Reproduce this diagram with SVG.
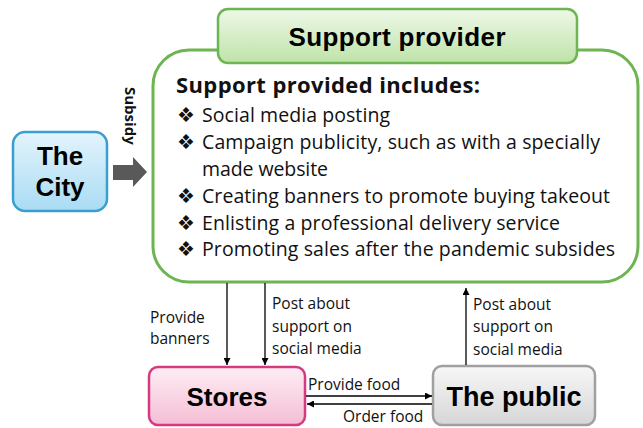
<svg xmlns="http://www.w3.org/2000/svg" width="643" height="428" viewBox="0 0 643 428">
<defs>
<linearGradient id="gGreen" x1="0" y1="0" x2="0" y2="1"><stop offset="0" stop-color="#eef8e8"/><stop offset="1" stop-color="#bfe3a8"/></linearGradient>
<linearGradient id="gBlue" x1="0" y1="0" x2="0" y2="1"><stop offset="0" stop-color="#e3f4fc"/><stop offset="1" stop-color="#a9dcf4"/></linearGradient>
<linearGradient id="gPink" x1="0" y1="0" x2="0" y2="1"><stop offset="0" stop-color="#fdeef4"/><stop offset="1" stop-color="#f5bdd5"/></linearGradient>
<linearGradient id="gGray" x1="0" y1="0" x2="0" y2="1"><stop offset="0" stop-color="#f7f7f7"/><stop offset="1" stop-color="#d6d6d6"/></linearGradient>
<marker id="ah" viewBox="0 0 10 10" refX="10" refY="5" markerWidth="8" markerHeight="7" markerUnits="userSpaceOnUse" orient="auto"><path d="M0,0 L10,5 L0,10 z" fill="#000"/></marker>
</defs>
<style>
.node{font-family:"Liberation Sans",Arial,sans-serif;font-weight:bold;fill:#000;text-anchor:middle}
.body{font-family:"Open Sans","Noto Sans",sans-serif;fill:#111}
.lbl{font-family:"Open Sans","Noto Sans",sans-serif;font-size:15.5px;fill:#111}
.conn{stroke:#000;stroke-width:1.3;fill:none;marker-end:url(#ah)}
</style>
<rect width="643" height="428" fill="#fff"/>

<g id="support-provider-body">
<rect x="153" y="50" width="485" height="232" rx="36" ry="36" fill="#fff" stroke="#6cb552" stroke-width="3"/>
<text class="body" x="176" y="93" font-size="22" font-weight="bold" textLength="304">Support provided includes:</text>
<g font-size="19.5" class="body">
<text x="177" y="122">❖</text><text x="202" y="122" textLength="188">Social media posting</text>
<text x="177" y="149">❖</text><text x="202" y="149" textLength="398">Campaign publicity, such as with a specially</text>
<text x="202" y="176" textLength="126">made website</text>
<text x="177" y="203">❖</text><text x="202" y="203" textLength="408">Creating banners to promote buying takeout</text>
<text x="177" y="230">❖</text><text x="202" y="230" textLength="358">Enlisting a professional delivery service</text>
<text x="177" y="256">❖</text><text x="202" y="256" textLength="413">Promoting sales after the pandemic subsides</text>
</g>
</g>

<g id="support-provider">
<rect x="218" y="9" width="359" height="54" rx="10" ry="10" fill="url(#gGreen)" stroke="#6cb552" stroke-width="2.5"/>
<text class="node" x="397" y="46" font-size="26" textLength="217">Support provider</text>
</g>

<g id="the-city">
<rect x="13" y="132" width="94" height="79" rx="12" ry="12" fill="url(#gBlue)" stroke="#3a9ed0" stroke-width="2.5"/>
<text class="node" x="60" y="165" font-size="26">The</text>
<text class="node" x="60" y="196" font-size="26">City</text>
</g>

<g id="stores">
<rect x="149" y="367" width="156" height="58" rx="9" ry="9" fill="url(#gPink)" stroke="#d5397f" stroke-width="2.5"/>
<text class="node" x="227" y="406" font-size="26">Stores</text>
</g>

<g id="the-public">
<rect x="433" y="366" width="162" height="59" rx="9" ry="9" fill="url(#gGray)" stroke="#a0a0a0" stroke-width="2.5"/>
<text class="node" x="514" y="406" font-size="27">The public</text>
</g>

<g id="connectors">
<path d="M113,165 H133 V157 L147,172 L133,187 V180 H113 z" fill="#595959"/>
<text x="125" y="87" transform="rotate(90 125 87)" font-family="Open Sans, Noto Sans, sans-serif" font-weight="bold" font-size="15" fill="#111">Subsidy</text>

<line class="conn" x1="227" y1="283" x2="227" y2="365"/>
<text class="lbl" x="150" y="323">Provide</text>
<text class="lbl" x="150" y="344">banners</text>

<line class="conn" x1="265" y1="283" x2="265" y2="365"/>
<text class="lbl" x="272" y="309">Post about</text>
<text class="lbl" x="272" y="332">support on</text>
<text class="lbl" x="272" y="354">social media</text>

<line class="conn" x1="466" y1="365" x2="466" y2="288"/>
<text class="lbl" x="473" y="310">Post about</text>
<text class="lbl" x="473" y="332">support on</text>
<text class="lbl" x="473" y="355">social media</text>

<line class="conn" x1="306" y1="396" x2="432" y2="396"/>
<text class="lbl" x="308" y="390">Provide food</text>
<line class="conn" x1="432" y1="404" x2="307" y2="404"/>
<text class="lbl" x="343" y="422">Order food</text>
</g>
</svg>
